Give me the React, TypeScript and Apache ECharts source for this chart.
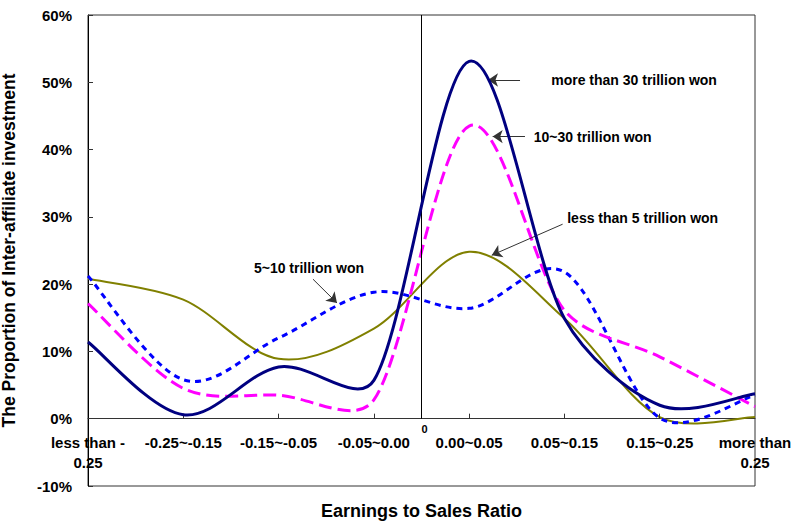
import React, { useEffect, useRef } from 'react';
import * as echarts from 'echarts';

// X categories (earnings-to-sales ratio bands), positioned at 0..7 on a value axis
const categories = [
  'less than -\n0.25',
  '-0.25~-0.15',
  '-0.15~-0.05',
  '-0.05~0.00',
  '0.00~0.05',
  '0.05~0.15',
  '0.15~0.25',
  'more than\n0.25',
];

// Proportion of inter-affiliate investment (%)
const over30 = [11.4, 0.6, 7.7, 5.7, 53.1, 14.9, 2.0, 3.7];
const from10to30 = [17.1, 4.5, 3.5, 2.8, 43.5, 16.1, 9.2, 1.8];
const from5to10 = [21.2, 5.8, 12.0, 18.8, 16.4, 21.8, 0.1, 3.5];
const under5 = [20.8, 17.7, 8.9, 13.4, 24.8, 14.9, 0.25, 0.25];

// Y axis range / ticks (%)
const yMin = -10;
const yMax = 60;
const yStep = 10;

// Annotations in data coordinates
const noteOver30 = { text: 'more than 30 trillion won', at: [4.856, 50.4], from: [4.534, 50.34], to: [4.198, 50.34] };
const note10to30 = { text: '10~30 trillion won', at: [4.673, 41.9], from: [4.586, 41.93], to: [4.247, 41.93] };
const noteUnder5 = { text: 'less than 5 trillion won', at: [5.024, 29.9], from: [4.981, 28.91], to: [4.237, 24.3] };
const note5to10 = { text: '5~10 trillion won', at: [2.319, 22.47], from: [2.361, 20.74], to: [2.613, 17.2] };
const zeroLineX = 3.5;
const zeroTickHeight = 0.75; // % units

const FONT = '"Liberation Sans", Arial, Helvetica, sans-serif';

const toPairs = (arr: number[]) => arr.map((v, i) => [i, v]);

// Excel-like smoothed curve: Catmull-Rom tangents, control arms limited to 1/3 of
// the adjacent segment; points are placed through api.coord (the chart's scales)
function smoothPath(values: number[], api: any) {
  const p = values.map((v, i) => api.coord([i, v]));
  const n = p.length;
  const dist = (a: number[], b: number[]) => Math.hypot(b[0] - a[0], b[1] - a[1]);
  const outCp: number[][] = [];
  const inCp: number[][] = [];
  for (let i = 0; i < n; i++) {
    const prev = p[Math.max(i - 1, 0)];
    const next = p[Math.min(i + 1, n - 1)];
    const tx = (next[0] - prev[0]) / 6;
    const ty = (next[1] - prev[1]) / 6;
    const tl = Math.hypot(tx, ty) || 1;
    const dPrev = i > 0 ? dist(p[i - 1], p[i]) : 0;
    const dNext = i < n - 1 ? dist(p[i], p[i + 1]) : 0;
    const sIn = Math.min(1, dPrev / 3 / tl);
    const sOut = Math.min(1, dNext / 3 / tl);
    inCp.push([p[i][0] - tx * sIn, p[i][1] - ty * sIn]);
    outCp.push([p[i][0] + tx * sOut, p[i][1] + ty * sOut]);
  }
  let d = `M${p[0][0]} ${p[0][1]}`;
  for (let i = 0; i < n - 1; i++) {
    const c1 = outCp[i];
    const c2 = inCp[i + 1];
    d += ` C${c1[0]} ${c1[1]} ${c2[0]} ${c2[1]} ${p[i + 1][0]} ${p[i + 1][1]}`;
  }
  return d;
}

function curveSeries(name: string, values: number[], color: string, width: number, dash: number[] | null, z: number) {
  return {
    name,
    type: 'custom',
    coordinateSystem: 'cartesian2d',
    data: toPairs(values),
    encode: { x: 0, y: 1 },
    silent: true,
    z,
    renderItem: (params: any, api: any) => {
      if (params.dataIndex !== 0) return null;
      return {
        type: 'path',
        shape: { pathData: smoothPath(values, api) },
        style: {
          fill: 'none',
          stroke: color,
          lineWidth: width,
          lineDash: dash || undefined,
          lineCap: 'butt',
          lineJoin: 'round',
        },
      };
    },
  };
}

function arrowItem(note: any) {
  return [
    { coord: note.from, symbol: 'none', lineStyle: { color: '#333', width: 1, type: 'solid' } },
    { coord: note.to, symbol: 'arrow' },
  ];
}

function textItem(note: any, position: string) {
  return { coord: note.at, label: { formatter: note.text, position } };
}

export default function App() {
  const ref = useRef<HTMLDivElement>(null);

  useEffect(() => {
    if (!ref.current) return;
    const chart = echarts.init(ref.current, null, { renderer: 'svg' });

    const tickItems = categories
      .map((_, i) => i)
      .filter((i) => i > 0 && i < categories.length - 1)
      .map((i) => [
        { coord: [i, 0], symbol: 'none', lineStyle: { color: '#333', width: 1, type: 'solid' } },
        { coord: [i, zeroTickHeight], symbol: 'none' },
      ]);

    const annotationSeries = {
      name: 'annotations',
      type: 'line',
      data: toPairs(over30),
      showSymbol: false,
      silent: true,
      lineStyle: { opacity: 0 },
      z: 1,
      markLine: {
        silent: true,
        animation: false,
        symbol: ['none', 'none'],
        symbolSize: 10,
        lineStyle: { color: '#333', width: 1, type: 'solid' },
        itemStyle: { color: '#000' },
        label: { show: false },
        emphasis: { disabled: true },
        data: [
          [
            { coord: [zeroLineX, yMax], symbol: 'none', lineStyle: { color: '#000', width: 1, type: 'solid' } },
            { coord: [zeroLineX, 0], symbol: 'none' },
          ],
          ...tickItems,
          arrowItem(noteOver30),
          arrowItem(note10to30),
          arrowItem(noteUnder5),
          arrowItem(note5to10),
        ],
      },
      markPoint: {
        silent: true,
        animation: false,
        symbol: 'circle',
        symbolSize: 1,
        itemStyle: { color: 'rgba(0,0,0,0)' },
        label: {
          show: true,
          distance: 0,
          color: '#000',
          fontFamily: FONT,
          fontWeight: 'bold',
          fontSize: 14,
        },
        emphasis: { disabled: true },
        data: [
          textItem(noteOver30, 'right'),
          textItem(note10to30, 'right'),
          textItem(noteUnder5, 'right'),
          textItem(note5to10, 'inside'),
          {
            coord: [zeroLineX, 0],
            label: { formatter: '0', position: 'bottom', distance: 4, offset: [3, 0], fontSize: 11 },
          },
        ],
      },
    };

    const option: any = {
      animation: false,
      backgroundColor: '#fff',
      grid: {
        left: 88,
        right: 40,
        top: 15,
        bottom: 38,
        show: true,
        borderColor: '#333',
        borderWidth: 1,
        containLabel: false,
        outerBoundsMode: 'none',
      },
      xAxis: {
        type: 'value',
        min: 0,
        max: categories.length - 1,
        interval: 1,
        name: 'Earnings to Sales Ratio',
        nameLocation: 'middle',
        nameGap: 16,
        nameMoveOverlap: false,
        nameTextStyle: { fontFamily: FONT, fontWeight: 'bold', fontSize: 18, color: '#000' },
        axisLine: { show: true, onZero: true, lineStyle: { color: '#333', width: 1 } },
        axisTick: { show: false },
        splitLine: { show: false },
        axisLabel: {
          inside: true,
          margin: 54,
          verticalAlign: 'top',
          color: '#000',
          fontFamily: FONT,
          fontWeight: 'bold',
          fontSize: 15,
          lineHeight: 20,
          showMinLabel: true,
          showMaxLabel: true,
          formatter: (v: number) => categories[Math.round(v)] ?? '',
        },
      },
      yAxis: {
        type: 'value',
        min: yMin,
        max: yMax,
        interval: yStep,
        name: 'The Proportion of Inter-affiliate investment',
        nameLocation: 'middle',
        nameGap: 70,
        nameMoveOverlap: false,
        nameTextStyle: { fontFamily: FONT, fontWeight: 'bold', fontSize: 17.5, color: '#000' },
        axisLine: { show: true, onZero: false, lineStyle: { color: '#000', width: 1 } },
        axisTick: { show: true, inside: true, length: 5, lineStyle: { color: '#333' } },
        splitLine: { show: false },
        axisLabel: {
          margin: 16,
          color: '#000',
          fontFamily: FONT,
          fontWeight: 'bold',
          fontSize: 15,
          formatter: '{value}%',
        },
      },
      series: [
        annotationSeries,
        curveSeries('less than 5 trillion won', under5, '#808000', 2, null, 2),
        curveSeries('5~10 trillion won', from5to10, '#0000FF', 3, [6, 5], 3),
        curveSeries('10~30 trillion won', from10to30, '#FF00FF', 3, [13, 6], 4),
        curveSeries('more than 30 trillion won', over30, '#000080', 3, null, 5),
      ],
    };

    chart.setOption(option);
    return () => chart.dispose();
  }, []);

  return (
    <div
      ref={ref}
      style={{ position: 'fixed', left: 0, top: 0, width: 795, height: 524, background: '#fff' }}
    />
  );
}
